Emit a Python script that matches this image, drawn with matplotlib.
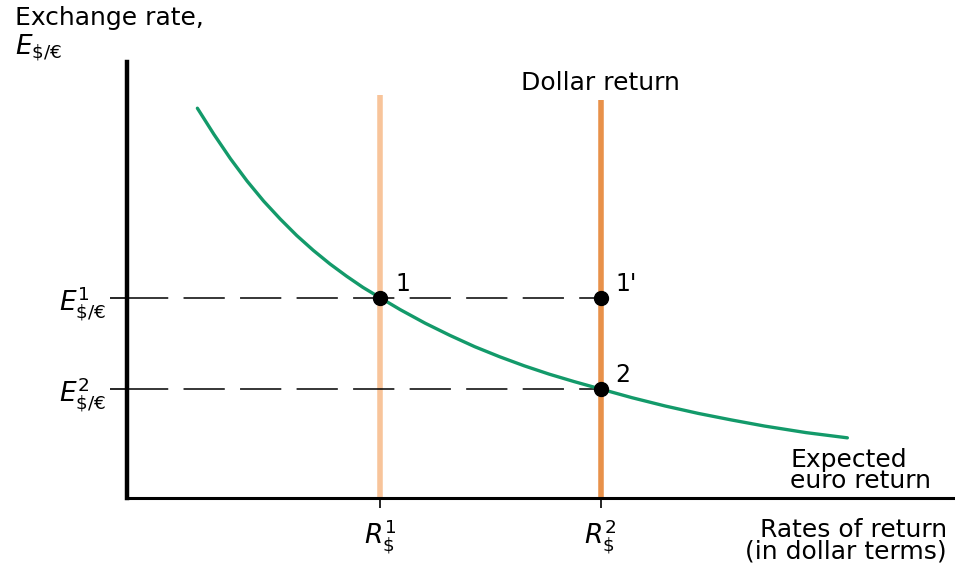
import matplotlib.pyplot as plt

plt.rcParams['font.family'] = ['DejaVu Sans']
plt.rcParams['mathtext.fontset'] = 'dejavusans'

# Rates of return (dollar terms) and exchange rates, arbitrary units
r_dollar = [3.06, 5.72]
e_rate = [4.59, 2.50]

# Expected euro return curve
euro_x = [0.85, 1.05, 1.25, 1.45, 1.65, 1.85, 2.05, 2.25, 2.45, 2.65, 2.85, 3.06,
          3.30, 3.60, 3.90, 4.20, 4.50, 4.80, 5.10, 5.40, 5.72,
          6.10, 6.50, 6.90, 7.30, 7.70, 8.20, 8.70]
euro_y = [8.94, 8.34, 7.78, 7.27, 6.81, 6.40, 6.02, 5.68, 5.37, 5.09, 4.83, 4.59,
          4.32, 4.01, 3.73, 3.47, 3.24, 3.03, 2.84, 2.67, 2.50,
          2.30, 2.11, 1.94, 1.79, 1.65, 1.50, 1.38]

# dollar return lines: top ends
dollar_top = [9.24, 9.13]

# equilibrium points: (R, E, label)
points = [(r_dollar[0], e_rate[0], "1"), (r_dollar[1], e_rate[0], "1'"),
          (r_dollar[1], e_rate[1], "2")]

fig = plt.figure(figsize=(9.55, 5.63), dpi=100)
ax = fig.add_axes([127 / 955, 65 / 563, 828 / 955, 436 / 563])
ax.set_xlim(0, 10)
ax.set_ylim(0, 10)

for s in ['top', 'right']:
    ax.spines[s].set_visible(False)
ax.spines['left'].set_linewidth(3.2)
ax.spines['bottom'].set_linewidth(2.2)

# dollar return lines
ax.plot([r_dollar[0]] * 2, [0, dollar_top[0]], color='#f8c49a', lw=4, solid_capstyle='butt', zorder=2)
ax.plot([r_dollar[1]] * 2, [0, dollar_top[1]], color='#e8914a', lw=4, solid_capstyle='butt', zorder=2)

# dashed guides
for e in e_rate:
    ax.plot([0, r_dollar[1]], [e, e], color='black', lw=1.1,
            linestyle=(0, (27, 10)), zorder=3)

# expected euro return
ax.plot(euro_x, euro_y, color='#139a6a', lw=2.4, zorder=4,
        solid_capstyle='round', solid_joinstyle='round')

for x, y, lab in points:
    ax.plot(x, y, 'o', color='black', ms=10, zorder=5)
    ax.text(x + 0.18, y + 0.05, lab, fontsize=17, ha='left', va='bottom', zorder=6)

ax.set_xticks(r_dollar)
ax.set_xticklabels([r'$R^1_{\$}$', r'$R^2_{\$}$'], fontsize=19)
ax.set_yticks(e_rate)
ax.set_yticklabels([r'$E^1_{\mathrm{\$/€}}$', r'$E^2_{\mathrm{\$/€}}$'], fontsize=19)
ax.tick_params(axis='x', direction='out', length=7, width=1.2, pad=7)
ax.tick_params(axis='y', direction='out', length=12, width=1.2, pad=3)

fig.text(15 / 955, 1 - 6 / 563, 'Exchange rate,', fontsize=18, ha='left', va='top')
fig.text(15 / 955, 1 - 32 / 563, r'$E_{\mathrm{\$/€}}$', fontsize=19, ha='left', va='top')
fig.text(600 / 955, 1 - 83 / 563, 'Dollar return', fontsize=18, ha='center', va='center')
fig.text(790 / 955, 1 - 448 / 563, 'Expected\neuro return', fontsize=18, ha='left', va='top',
         linespacing=0.85)
fig.text(947 / 955, 1 - 518 / 563, 'Rates of return\n(in dollar terms)', fontsize=18,
         ha='right', va='top', linespacing=0.85, multialignment='right')

fig.savefig('out.png', dpi=100)
